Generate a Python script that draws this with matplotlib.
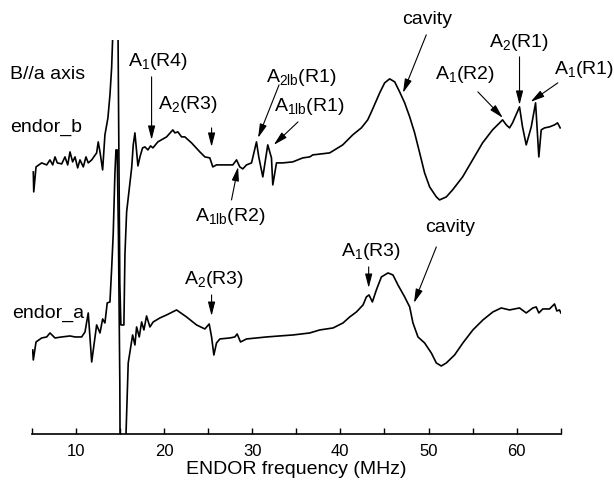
import matplotlib
matplotlib.use("Agg")
import matplotlib.pyplot as plt
from matplotlib.ticker import MultipleLocator

plt.rcParams['font.family'] = ['Liberation Sans', 'DejaVu Sans']
plt.rcParams['mathtext.fontset'] = 'custom'
plt.rcParams['mathtext.rm'] = 'Liberation Sans'
plt.rcParams['mathtext.it'] = 'Liberation Sans:italic'

# ENDOR spectrum, B // b  (upper trace), intensity in a.u.
freq_b = [5.19, 5.24, 5.50, 6.14, 6.71, 7.08, 7.39, 7.65, 7.91, 8.41, 8.78, 9.09, 9.35,
          9.65, 9.92, 10.22, 10.48, 10.86, 11.16, 11.42, 11.81, 12.37, 12.55, 12.75, 13.05,
          13.31, 13.65, 13.88, 14.07, 14.18, 14.44, 14.62, 14.80, 15.00, 15.12, 15.46, 15.58,
          15.77, 16.34, 16.52, 16.71, 17.05, 17.28, 17.58, 17.84, 18.18, 18.49, 18.75, 19.31,
          20.30, 21.01, 21.24, 21.58, 22.00, 22.37, 23.13, 24.07, 24.64, 25.20, 25.54, 25.96,
          26.68, 27.81, 28.23, 28.60, 28.94, 29.36, 29.93, 30.49, 30.75, 31.21, 31.77, 32.19,
          32.34, 32.76, 33.47, 34.60, 35.74, 36.53, 36.87, 38.79, 40.27, 41.40, 42.38, 43.10,
          43.52, 44.46, 45.02, 45.59, 46.16, 46.72, 47.29, 47.86, 48.42, 48.99, 49.55, 50.12,
          50.88, 51.25, 52.01, 52.72, 53.86, 54.99, 56.12, 57.25, 58.05, 58.39, 58.81, 59.18,
          59.52, 60.31, 60.65, 61.07, 61.64, 62.13, 62.50, 62.77, 63.15, 63.71, 64.28, 64.62,
          64.92]
endor_b = [262, 242, 267, 271, 269, 274, 269, 277, 271, 270, 277, 269, 282,
           272, 277, 266, 274, 267, 277, 271, 274, 281, 292, 282, 264,
           299, 316, 339, 366, 394, 520, 520, 394, 150, 109, 109, 180,
           222, 266, 289, 301, 268, 277, 286, 287, 284, 288, 286, 292,
           297, 304, 301, 302, 297, 297, 291, 282, 277, 276, 267, 269,
           269, 269, 274, 267, 265, 269, 271, 292, 277, 257, 289, 276,
           249, 271, 271, 272, 276, 277, 279, 281, 289, 299, 306, 314,
           322, 341, 351, 355, 352, 342, 331, 317, 301, 281, 261, 247,
           237, 234, 237, 244, 257, 274, 291, 304, 311, 314, 309, 306,
           311, 327, 307, 289, 307, 331, 277, 304, 306, 307, 309, 311,
           306]

# ENDOR spectrum, B // a  (lower trace)
freq_a = [5.12, 5.19, 5.50, 6.14, 6.71, 7.08, 7.65, 8.41, 9.35, 9.92, 10.67, 11.05, 11.42,
          11.81, 12.37, 12.75, 13.05, 13.31, 13.57, 13.88, 14.07, 14.25, 14.44, 14.56, 14.70,
          14.84, 15.00, 15.05, 15.55, 15.70, 15.95, 16.45, 16.71, 16.90, 17.20, 17.47, 17.73,
          18.03, 18.41, 18.78, 19.54, 20.30, 21.43, 22.56, 23.70, 24.64, 25.13, 25.40, 25.66,
          25.96, 26.34, 27.47, 28.04, 28.30, 28.68, 29.36, 30.49, 31.62, 33.09, 34.64, 36.53,
          37.66, 39.17, 40.30, 41.06, 41.82, 42.57, 42.95, 43.25, 43.63, 44.08, 44.65, 45.40,
          45.96, 46.53, 47.29, 47.86, 48.23, 48.80, 49.55, 50.31, 50.88, 51.44, 52.01, 52.95,
          53.89, 55.02, 56.16, 57.29, 58.24, 59.18, 60.31, 61.07, 61.82, 62.20, 62.50, 62.95,
          63.71, 64.28, 64.54, 64.84, 65.00]
endor_a = [84, 74, 92, 96, 97, 101, 96, 97, 98, 97, 97, 102, 121,
           72, 109, 101, 115, 111, 131, 132, 165, 200, 260, 284, 284,
           200, 50, -60, -60, 0, 71, 99, 89, 107, 97, 112, 104,
           118, 107, 112, 116, 119, 124, 117, 109, 105, 110, 97, 79,
           91, 95, 96, 97, 100, 92, 95, 96, 97, 98, 99, 101,
           104, 106, 111, 117, 122, 129, 137, 139, 132, 144, 157, 161,
           159, 149, 137, 127, 111, 97, 91, 81, 71, 68, 71, 79,
           91, 104, 114, 122, 126, 124, 126, 121, 126, 127, 121, 125,
           125, 130, 123, 124, 121]

# labels: (text, text position, arrow tail, arrow tip)
labels = [
    (r'A$_{\mathrm{1}}$(R4)', (19.37, 372), (18.60, 357), (18.60, 294)),
    (r'A$_{\mathrm{2}}$(R3)', (22.77, 329), (25.40, 306), (25.40, 287)),
    (r'A$_{\mathrm{2lb}}$(R1)', (35.62, 356), (33.05, 349), (30.67, 296)),
    (r'A$_{\mathrm{1lb}}$(R1)', (36.47, 327), (35.20, 312), (32.45, 289)),
    (r'A$_{\mathrm{1lb}}$(R2)', (27.58, 217), (27.66, 234), (28.41, 267)),
    ('cavity', (49.89, 414), (49.74, 399), (47.10, 341)),
    (r'A$_{\mathrm{1}}$(R2)', (54.08, 359), (55.59, 342), (58.42, 316)),
    (r'A$_{\mathrm{2}}$(R1)', (60.20, 391), (60.31, 377), (60.31, 329)),
    (r'A$_{\mathrm{1}}$(R1)', (67.60, 364), (64.65, 351), (61.56, 332)),
    ('cavity', (52.50, 206), (50.88, 187), (48.34, 131)),
    (r'A$_{\mathrm{1}}$(R3)', (43.49, 182), (43.21, 167), (43.21, 146)),
    (r'A$_{\mathrm{2}}$(R3)', (25.66, 154), (25.40, 139), (25.40, 118)),
]

fig = plt.figure(figsize=(6.14, 4.86), dpi=100)
ax = fig.add_axes([0.0515, 0.107, 0.862, 0.811])

ax.plot(freq_b, endor_b, color='black', lw=1.2)
ax.plot(freq_a, endor_a, color='black', lw=1.2)

ax.set_xlim(5, 65)
ax.set_ylim(0, 394)
for s in ['left', 'right', 'top']:
    ax.spines[s].set_visible(False)
ax.spines['bottom'].set_linewidth(1.2)
ax.set_yticks([])
ax.xaxis.set_major_locator(MultipleLocator(10))
ax.xaxis.set_minor_locator(MultipleLocator(5))
ax.tick_params(axis='x', which='both', direction='in', length=4.5, width=1.0, labelsize=12, pad=7)
ax.set_xlabel('ENDOR frequency (MHz)', fontsize=14, labelpad=2)

ax.text(2.55, 359, 'B//a axis', fontsize=14, ha='left', va='center')
ax.text(2.55, 306, 'endor_b', fontsize=14, ha='left', va='center')
ax.text(2.78, 121, 'endor_a', fontsize=14, ha='left', va='center')

for txt, pos, tail, tip in labels:
    ax.text(pos[0], pos[1], txt, fontsize=14, ha='center', va='center')
    ax.annotate('', xy=tip, xytext=tail, annotation_clip=False,
                arrowprops=dict(arrowstyle='-|>,head_width=0.18,head_length=0.7',
                                color='black', lw=0.8, mutation_scale=12,
                                shrinkA=0, shrinkB=0))

fig.savefig('out.png', dpi=100)
